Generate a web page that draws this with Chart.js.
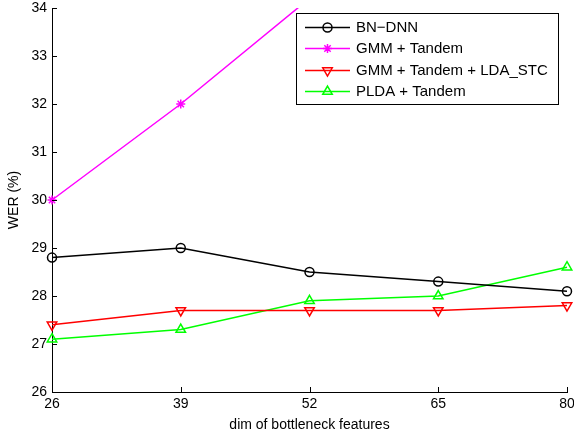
<!DOCTYPE html>
<html>
<head>
<meta charset="utf-8">
<script src="https://cdn.jsdelivr.net/npm/chart.js@4.4.1/dist/chart.umd.min.js"></script>
<style>
html,body{margin:0;padding:0;background:#fff;}
#wrap{width:574px;height:434px;position:relative;}
</style>
</head>
<body>
<div id="wrap"><canvas id="c" width="574" height="434"></canvas></div>
<script>
const dims = ['26', '39', '52', '65', '80'];
const bnDnn = [28.8, 29.0, 28.5, 28.3, 28.1];
const gmmTandem = [30.0, 32.0, 34.2, null, null];
const gmmLdaStc = [27.4, 27.7, 27.7, 27.7, 27.8];
const pldaTandem = [27.1, 27.3, 27.9, 28.0, 28.6];
const yTicks = [26, 27, 28, 29, 30, 31, 32, 33, 34];
const seriesNames = ['BN\u2212DNN', 'GMM + Tandem', 'GMM + Tandem + LDA_STC', 'PLDA + Tandem'];

const FONT = 'Arial, "Liberation Sans", Helvetica, sans-serif';
Chart.defaults.font.family = FONT;
Chart.defaults.font.size = 14;
Chart.defaults.color = '#000';

const LW = 1.5;

function ds(label, data, color, style, rot, radius) {
  return {
    label, data,
    borderColor: color, backgroundColor: 'rgba(0,0,0,0)',
    pointBorderColor: color, pointBackgroundColor: 'rgba(0,0,0,0)',
    borderWidth: LW, pointBorderWidth: LW,
    pointStyle: style, pointRotation: rot, pointRadius: radius, pointHoverRadius: radius,
    tension: 0, spanGaps: false,
    clip: {left: 10, right: 10, top: 0, bottom: 10}
  };
}

const inwardTicks = {
  id: 'inwardTicks',
  afterDraw(chart) {
    const ctx = chart.ctx, a = chart.chartArea;
    const x = chart.scales.x, y = chart.scales.y;
    ctx.save();
    ctx.strokeStyle = '#000'; ctx.lineWidth = 1;
    ctx.beginPath();
    dims.forEach((d, i) => {
      const px = Math.round(x.getPixelForValue(i)) + 0.5;
      ctx.moveTo(px, a.bottom); ctx.lineTo(px, a.bottom - 5);
    });
    yTicks.forEach(v => {
      const py = Math.round(y.getPixelForValue(v)) + 0.5;
      ctx.moveTo(a.left, py); ctx.lineTo(a.left + 5, py);
    });
    ctx.stroke();
    ctx.restore();
  }
};

const boxLegend = {
  id: 'boxLegend',
  afterDraw(chart) {
    const ctx = chart.ctx;
    const bx = 296, by = 13, bw = 262, bh = 91;
    ctx.save();
    ctx.fillStyle = '#fff';
    ctx.fillRect(bx, by, bw, bh);
    ctx.strokeStyle = '#000'; ctx.lineWidth = 1;
    ctx.strokeRect(bx + 0.5, by + 0.5, bw, bh);
    const rows = [27, 48, 70, 91];
    chart.data.datasets.forEach((d, i) => {
      const yy = rows[i] + 0.5;
      ctx.save();
      ctx.strokeStyle = d.borderColor; ctx.lineWidth = LW;
      ctx.beginPath(); ctx.moveTo(305, yy); ctx.lineTo(350, yy); ctx.stroke();
      ctx.strokeStyle = d.borderColor; ctx.fillStyle = 'rgba(0,0,0,0)'; ctx.lineWidth = LW;
      Chart.helpers.drawPoint(ctx, {
        pointStyle: d.pointStyle, rotation: d.pointRotation, radius: d.pointRadius, borderWidth: LW
      }, 327.5, yy);
      ctx.restore();
      ctx.fillStyle = '#000';
      ctx.font = '15px ' + FONT;
      ctx.textBaseline = 'middle'; ctx.textAlign = 'left';
      ctx.fillText(seriesNames[i], 356, rows[i] + 1);
    });
    ctx.restore();
  }
};

new Chart(document.getElementById('c'), {
  type: 'line',
  data: {
    labels: dims,
    datasets: [
      ds(seriesNames[0], bnDnn, '#000000', 'circle', 0, 4.5),
      ds(seriesNames[1], gmmTandem, '#ff00ff', 'star', 0, 4.5),
      ds(seriesNames[2], gmmLdaStc, '#ff0000', 'triangle', 180, 5.5),
      ds(seriesNames[3], pldaTandem, '#00ff00', 'triangle', 0, 5.5)
    ]
  },
  options: {
    responsive: false,
    animation: false,
    events: [],
    layout: {padding: {top: 8, right: 7, left: 0, bottom: 0}},
    plugins: {legend: {display: false}, tooltip: {enabled: false}},
    scales: {
      x: {
        type: 'category',
        offset: false,
        grid: {display: false, drawTicks: false},
        border: {display: true, color: '#000', width: 1},
        ticks: {padding: 4, maxRotation: 0, autoSkip: false, font: {size: 14}},
        title: {display: true, text: 'dim of bottleneck features', padding: {top: 0, bottom: 0}, font: {size: 14}},
        afterFit(s) { s.height = 42; s.paddingLeft = 0; s.paddingRight = 0; }
      },
      y: {
        min: 26, max: 34,
        grid: {display: false, drawTicks: false},
        border: {display: true, color: '#000', width: 1},
        ticks: {stepSize: 1, padding: 5, font: {size: 14}},
        afterBuildTicks(s) { s.ticks = yTicks.map(v => ({value: v})); },
        title: {display: true, text: 'WER (%)', padding: {top: 6, bottom: 0}, font: {size: 14}},
        afterFit(s) { s.width = 52; s.paddingTop = 0; s.paddingBottom = 0; }
      }
    }
  },
  plugins: [inwardTicks, boxLegend]
});
</script>
</body>
</html>
